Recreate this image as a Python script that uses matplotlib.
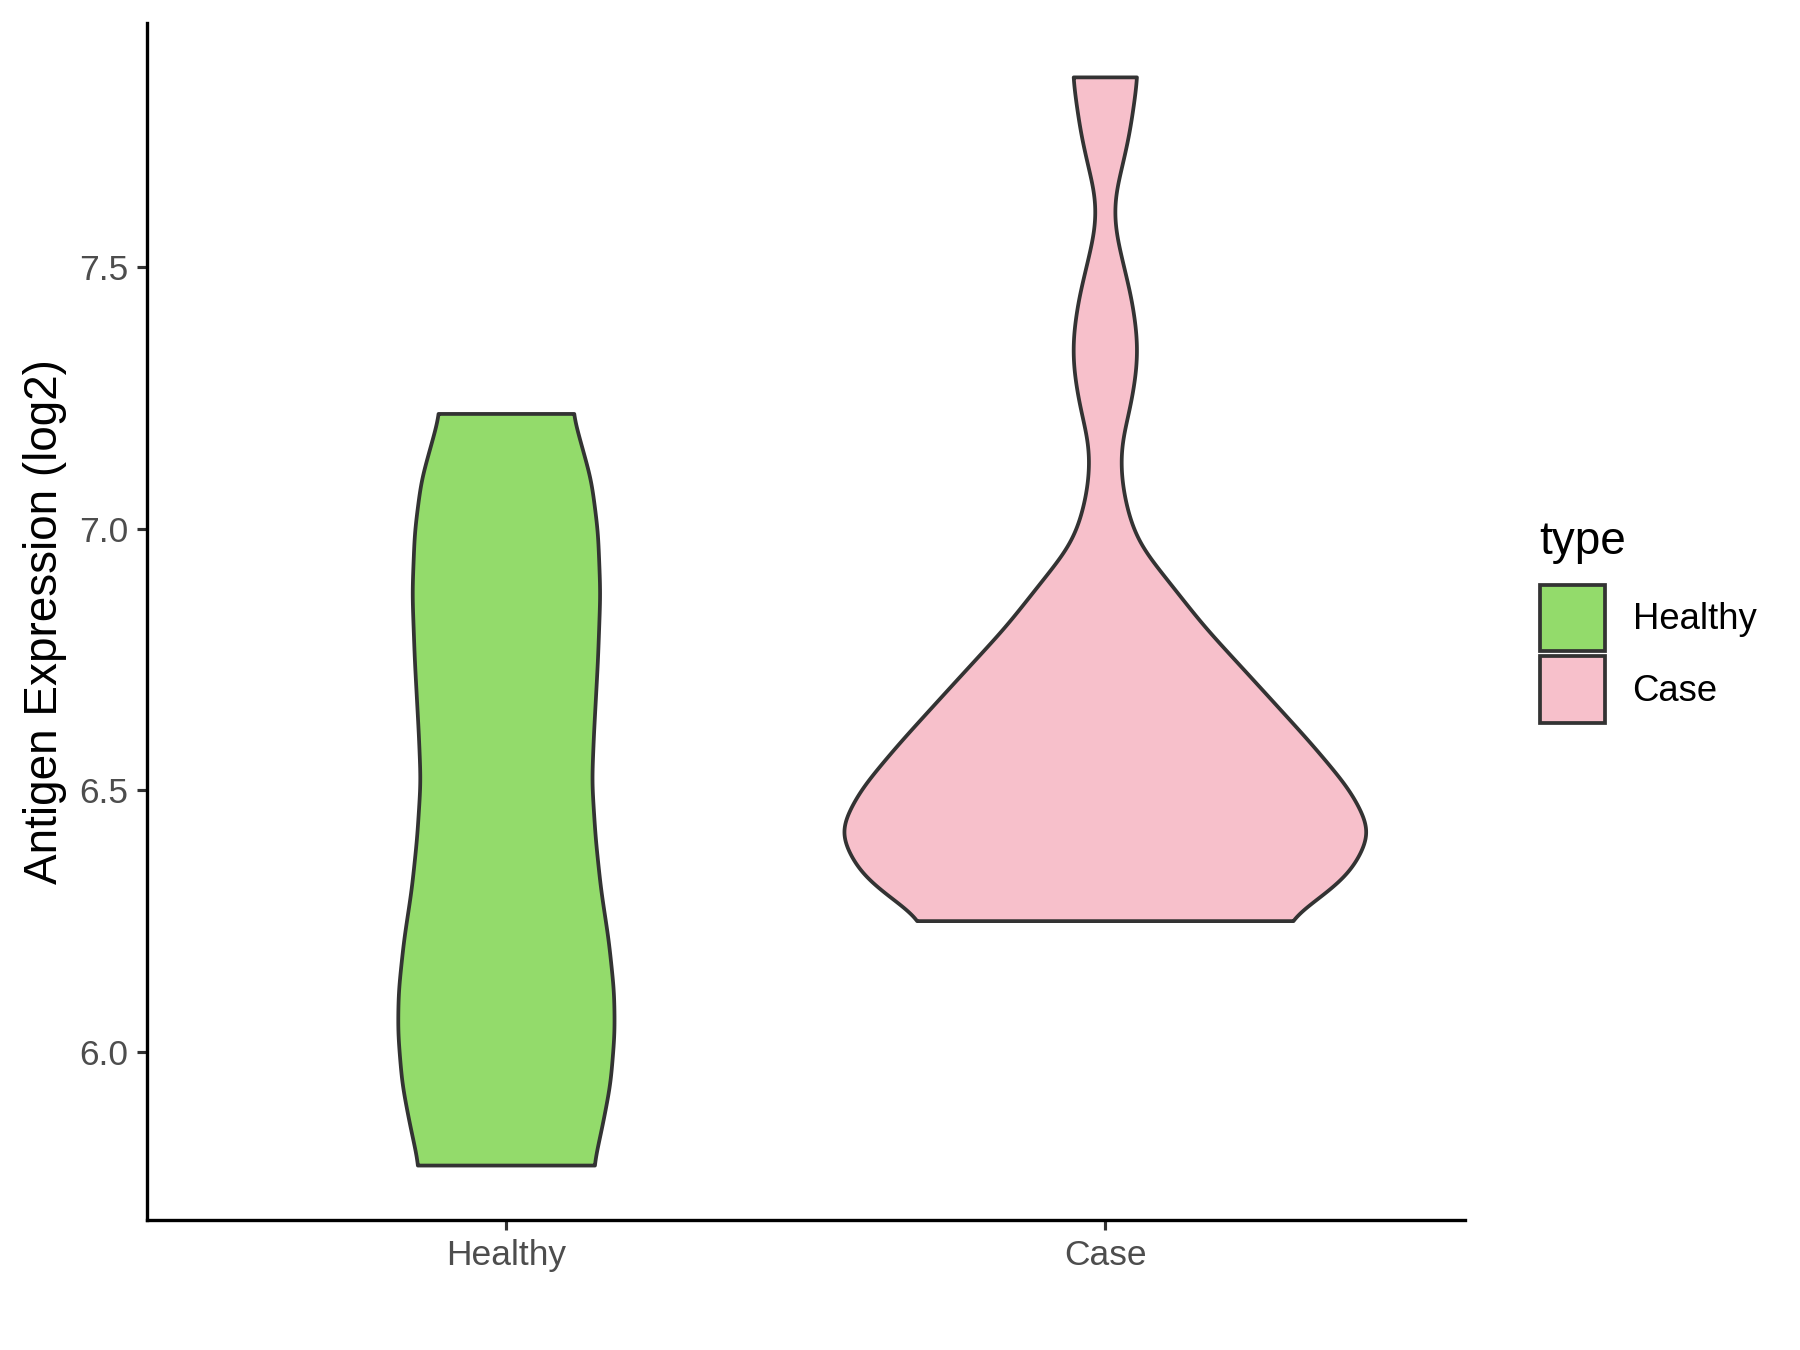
import matplotlib.pyplot as plt
import numpy as np
from matplotlib.patches import Patch

plt.rcParams['font.family'] = ['Liberation Sans', 'DejaVu Sans']

groups = ['Healthy', 'Case']
colors = ['#93DB6B', '#F7C0CB']

# violin outline: expression level -> half width (x units)
healthy_y = [5.783, 5.861, 5.939, 6.037, 6.115, 6.213, 6.310, 6.408, 6.516,
             6.603, 6.750, 6.877, 6.994, 7.092, 7.219]
healthy_w = [0.146, 0.161, 0.174, 0.181, 0.180, 0.171, 0.158, 0.149, 0.143,
             0.146, 0.153, 0.157, 0.153, 0.142, 0.111]

case_y = [6.250, 6.297, 6.341, 6.420, 6.499, 6.588, 6.701, 6.813, 6.900, 6.960,
          7.000, 7.050, 7.090, 7.127, 7.165, 7.243, 7.300, 7.340, 7.380, 7.440,
          7.530, 7.565, 7.605, 7.645, 7.680, 7.750, 7.810, 7.862]
case_w = [0.300, 0.363, 0.410, 0.445, 0.410, 0.345, 0.255, 0.165, 0.105, 0.063,
          0.046, 0.034, 0.028, 0.026, 0.028, 0.044, 0.052, 0.054, 0.052, 0.044,
          0.025, 0.018, 0.015, 0.018, 0.026, 0.040, 0.048, 0.054]

profiles = [(healthy_y, healthy_w), (case_y, case_w)]


def smooth_outline(ys, ws, n=600, sigma=10):
    grid = np.linspace(ys[0], ys[-1], n)
    w = np.interp(grid, ys, ws)
    k = np.arange(-3 * sigma, 3 * sigma + 1)
    kern = np.exp(-0.5 * (k / sigma) ** 2)
    kern /= kern.sum()
    padded = np.pad(w, 3 * sigma, mode='edge')
    return grid, np.convolve(padded, kern, mode='valid')


fig = plt.figure(figsize=(12, 9), dpi=150)
ax = fig.add_axes([0.0817, 0.0963, 0.732, 0.8867])

for i, ((ys, ws), c) in enumerate(zip(profiles, colors)):
    pos = i + 1
    grid, w = smooth_outline(ys, ws)
    ax.fill(np.r_[pos - w, (pos + w)[::-1]], np.r_[grid, grid[::-1]],
            facecolor=c, edgecolor='#333333', linewidth=1.8, joinstyle='round')

ax.set_xlim(0.4, 2.6)
ax.set_ylim(5.679, 7.966)
ax.set_xticks([1, 2])
ax.set_xticklabels(groups)
ax.set_yticks([6.0, 6.5, 7.0, 7.5])
ax.set_yticklabels(['6.0', '6.5', '7.0', '7.5'])
ax.tick_params(axis='both', labelsize=17, labelcolor='#4D4D4D', color='#333333',
               length=5, width=1.5, pad=4)
ax.set_ylabel('Antigen Expression (log2)', fontsize=22, labelpad=6)

for s in ['top', 'right']:
    ax.spines[s].set_visible(False)
for s in ['left', 'bottom']:
    ax.spines[s].set_linewidth(1.6)
    ax.spines[s].set_color('black')

handles = [Patch(facecolor=c, edgecolor='#333333', linewidth=1.8) for c in colors]
leg = fig.legend(handles, groups, title='type', loc='upper left',
                 bbox_to_anchor=(0.8553, 0.615), frameon=False, fontsize=17.5,
                 title_fontsize=22, handlelength=1.8, handleheight=2.42,
                 labelspacing=0.15, handletextpad=0.75, borderpad=0,
                 borderaxespad=0, alignment='left')
leg._legend_box.sep = 10

fig.savefig('out.png', dpi=150)
